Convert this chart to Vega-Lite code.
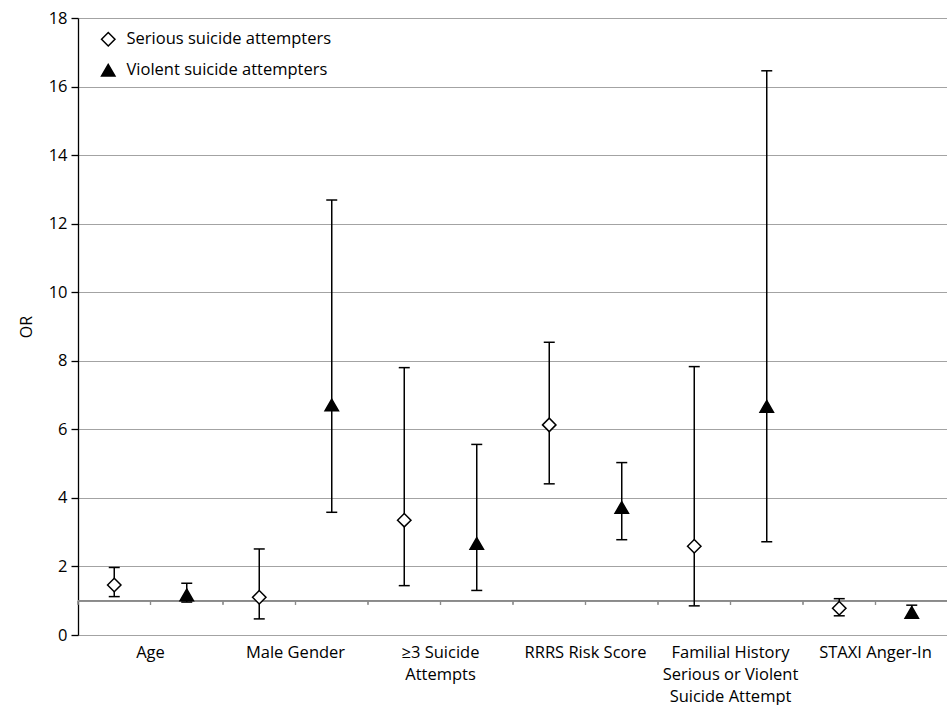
{
  "$schema": "https://vega.github.io/schema/vega-lite/v6.json",
  "width": 870,
  "height": 617,
  "padding": {"left": 18, "top": 10, "right": 0, "bottom": 5},
  "config": {
    "font": "Open Sans",
    "view": {"stroke": null},
    "axis": {"labelFontSize": 16.5, "titleFontSize": 16, "labelColor": "black", "titleColor": "black", "titleFontWeight": "normal"}
  },
  "data": {
    "values": [
      {"cat": "Age", "series": "Serious suicide attempters", "or": 1.46, "lo": 1.12, "hi": 1.97},
      {"cat": "Age", "series": "Violent suicide attempters", "or": 1.17, "lo": 0.96, "hi": 1.51},
      {"cat": "Male Gender", "series": "Serious suicide attempters", "or": 1.10, "lo": 0.47, "hi": 2.51},
      {"cat": "Male Gender", "series": "Violent suicide attempters", "or": 6.71, "lo": 3.58, "hi": 12.69},
      {"cat": "≥3 Suicide Attempts", "series": "Serious suicide attempters", "or": 3.35, "lo": 1.44, "hi": 7.80},
      {"cat": "≥3 Suicide Attempts", "series": "Violent suicide attempters", "or": 2.67, "lo": 1.30, "hi": 5.56},
      {"cat": "RRRS Risk Score", "series": "Serious suicide attempters", "or": 6.13, "lo": 4.41, "hi": 8.54},
      {"cat": "RRRS Risk Score", "series": "Violent suicide attempters", "or": 3.72, "lo": 2.78, "hi": 5.03},
      {"cat": "Familial History Serious or Violent Suicide Attempt", "series": "Serious suicide attempters", "or": 2.59, "lo": 0.85, "hi": 7.83},
      {"cat": "Familial History Serious or Violent Suicide Attempt", "series": "Violent suicide attempters", "or": 6.67, "lo": 2.72, "hi": 16.46},
      {"cat": "STAXI Anger-In", "series": "Serious suicide attempters", "or": 0.78, "lo": 0.56, "hi": 1.06},
      {"cat": "STAXI Anger-In", "series": "Violent suicide attempters", "or": 0.66, "lo": 0.55, "hi": 0.87}
    ]
  },
  "encoding": {
    "x": {
      "field": "cat", "type": "nominal", "sort": null,
      "scale": {"paddingInner": 0, "paddingOuter": 0},
      "axis": {
        "title": null, "domain": false, "ticks": false, "labelAngle": 0, "labelPadding": 9,
        "labelLineHeight": 22, "labelBaseline": "top", "labelLimit": 220,
        "labelExpr": "datum.value == '≥3 Suicide Attempts' ? ['≥3 Suicide', 'Attempts'] : datum.value == 'Familial History Serious or Violent Suicide Attempt' ? ['Familial History', 'Serious or Violent', 'Suicide Attempt'] : datum.value"
      }
    }
  },
  "layer": [
    {
      "mark": {"type": "rule", "color": "#8a8a8a", "strokeWidth": 1.3},
      "encoding": {
        "x": null,
        "y": {"datum": 1, "type": "quantitative", "scale": {"domain": [0, 18], "nice": false},
          "axis": {"title": "OR", "values": [0, 2, 4, 6, 8, 10, 12, 14, 16, 18], "grid": true, "gridColor": "#a3a3a3", "gridWidth": 1.2, "gridOpacity": 1,
            "domainColor": "black", "domainWidth": 1.3, "tickColor": "black", "tickSize": 7, "tickWidth": 1.3, "labelPadding": 4, "titlePadding": 14}}
      }
    },
    {
      "mark": {"type": "rule", "color": "#8a8a8a", "strokeWidth": 1.2},
      "encoding": {
        "x": {"field": "cat", "type": "nominal", "sort": null, "bandPosition": 0},
        "y": {"datum": 1, "type": "quantitative"},
        "y2": {"datum": 0.88}
      }
    },
    {
      "mark": {"type": "rule", "color": "#8a8a8a", "strokeWidth": 1.2},
      "encoding": {
        "x": {"field": "cat", "type": "nominal", "sort": null, "bandPosition": 0.5},
        "y": {"datum": 1, "type": "quantitative"},
        "y2": {"datum": 0.88}
      }
    },
    {
      "mark": {"type": "rule", "color": "black", "strokeWidth": 1.5},
      "encoding": {
        "xOffset": {"field": "series", "sort": null},
        "y": {"field": "lo", "type": "quantitative"},
        "y2": {"field": "hi"}
      }
    },
    {
      "mark": {"type": "tick", "color": "black", "orient": "horizontal", "size": 11, "thickness": 1.5, "opacity": 1},
      "encoding": {
        "xOffset": {"field": "series", "sort": null},
        "y": {"field": "hi", "type": "quantitative"}
      }
    },
    {
      "mark": {"type": "tick", "color": "black", "orient": "horizontal", "size": 11, "thickness": 1.5, "opacity": 1},
      "encoding": {
        "xOffset": {"field": "series", "sort": null},
        "y": {"field": "lo", "type": "quantitative"}
      }
    },
    {
      "mark": {"type": "point", "filled": true, "stroke": "black", "strokeWidth": 1.5, "size": 180, "opacity": 1},
      "encoding": {
        "xOffset": {"field": "series", "sort": null},
        "y": {"field": "or", "type": "quantitative"},
        "shape": {"field": "series", "type": "nominal", "scale": {"domain": ["Serious suicide attempters", "Violent suicide attempters"], "range": ["diamond", "triangle-up"]},
          "legend": {"title": null, "orient": "none", "legendX": 22, "legendY": 13, "padding": 0, "labelFontSize": 16.5, "labelColor": "black", "labelLimit": 400, "symbolSize": 180, "rowPadding": 12, "labelOffset": 10,
            "encode": {"symbols": {"update": {"stroke": {"value": "black"}, "strokeWidth": {"value": 1.5}, "opacity": {"value": 1}}}}}},
        "fill": {"field": "series", "type": "nominal", "scale": {"domain": ["Serious suicide attempters", "Violent suicide attempters"], "range": ["white", "black"]},
          "legend": {"title": null, "orient": "none", "legendX": 22, "legendY": 13, "padding": 0, "labelFontSize": 16.5, "labelColor": "black", "labelLimit": 400, "symbolSize": 180, "rowPadding": 12, "labelOffset": 10,
            "encode": {"symbols": {"update": {"stroke": {"value": "black"}, "strokeWidth": {"value": 1.5}, "opacity": {"value": 1}}}}}}
      }
    }
  ]
}
